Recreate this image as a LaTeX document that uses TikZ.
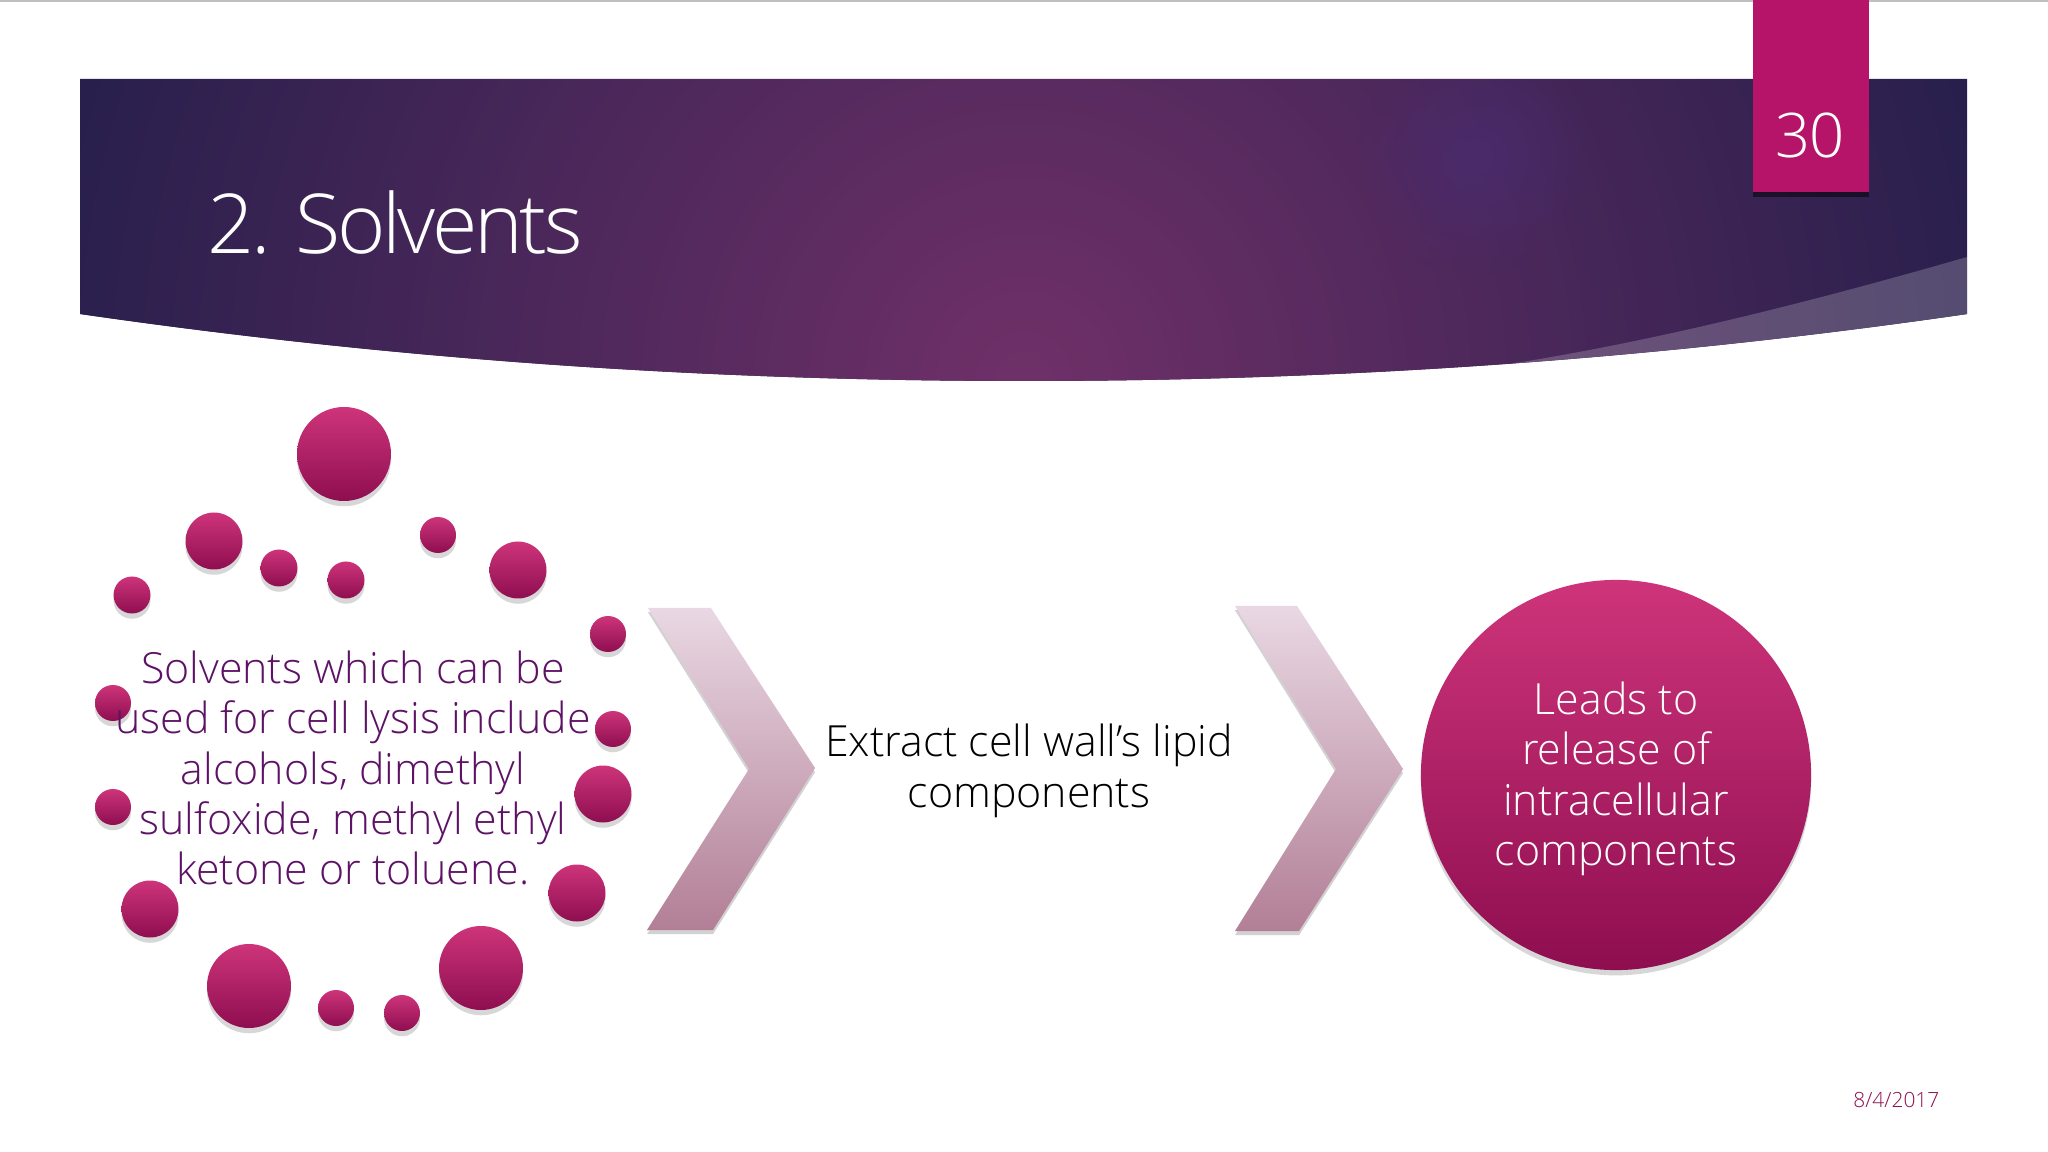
\documentclass[tikz,border=0pt]{standalone}
\usepackage{fontspec}
\setmainfont{Open Sans}[UprightFont=* Light]
\usepackage{tikz}
\usetikzlibrary{shadows,fadings}
\definecolor{hdrdark}{HTML}{271F4C}
\definecolor{hdrmid}{HTML}{6F3068}
\definecolor{hdrglow}{HTML}{4A2C72}
\definecolor{tabred}{HTML}{B51468}
\definecolor{balltop}{HTML}{CE347A}
\definecolor{ballbot}{HTML}{8E0E50}
\definecolor{chevtop}{HTML}{E9D8E3}
\definecolor{chevbot}{HTML}{B27F96}
\definecolor{textpurple}{HTML}{5E1266}
\definecolor{datered}{HTML}{8E1050}
\tikzfading[name=glowfade, inner color=transparent!30, outer color=transparent!100]
\tikzset{
	ball/.style={circle, inner sep=0pt, top color=balltop, bottom color=ballbot, drop shadow={shadow xshift=0pt, shadow yshift=-1.5pt, opacity=0.22, fill=black!70}},
	chevron/.style={top color=chevtop, bottom color=chevbot, drop shadow={shadow xshift=0pt, shadow yshift=-1.2pt, opacity=0.25, fill=black!70}},
	bodytext/.style={align=center, font=\fontsize{12.2}{14.34}\selectfont}
}
\begin{document}
\begin{tikzpicture}[x=0.01cm, y=-0.01cm]
	\useasboundingbox (0,0) rectangle (2048,1152);
	\fill[white] (0,0) rectangle (2048,1152);
	\fill[black!25] (0,0) rectangle (2048,2);

	\begin{scope}
		\clip (80,79) -- (1967,79) -- (1967,314) .. controls (1650,360) and (1340,381) .. (1024,381) .. controls (708,381) and (398,360) .. (80,314) -- cycle;
		\fill[hdrdark] (80,79) rectangle (1967,400);
		\shade[inner color=hdrmid, outer color=hdrdark] (1024,380) circle (1000);
		\fill[hdrglow, path fading=glowfade] (1476,157) circle (120);
		\fill[white, opacity=0.2] (1967,257) .. controls (1800,305) and (1640,345) .. (1483,368) -- (1483,400) -- (1967,400) -- cycle;
	\end{scope}

	\fill[tabred, drop shadow={shadow xshift=0pt, shadow yshift=-1.5pt, opacity=0.5, fill=black}] (1753,0) rectangle (1869,192);
	\node[white, font=\fontsize{17.5}{20}\selectfont\addfontfeature{LetterSpace=-3}] (pagenum) at (1810,135) {30};
	\node[white, anchor=base west, inner sep=0pt, font=\fontsize{23.5}{28}\selectfont\addfontfeature{LetterSpace=-4}] (title) at (207,254) {2. Solvents};

	\foreach \i/\x/\y/\d in {1/344/454/94, 2/214/541/57, 3/279/568/37, 4/346/580/37, 5/438/535/36, 6/518/570/57, 7/132/595/37, 8/608/634/36, 9/113/703/36, 10/613/729/36, 11/603/794/57, 12/113/807/36, 13/577/893/57, 14/150/909/57, 15/481/968/84, 16/249/986/84, 17/336/1008/36, 18/402/1013/36}
		\node[ball, minimum size=\d*0.01cm] (ball\i) at (\x,\y) {};

	\node[bodytext, text=textpurple] (solvents) at (353,768) {Solvents which can be\\used for cell lysis include\\alcohols, dimethyl\\sulfoxide, methyl ethyl\\ketone or toluene.};

	\shade[chevron] (648,608) -- (711,608) -- (815,768) -- (713,930) -- (647,930) -- (749,769) -- cycle;
	\node[bodytext, text=black] (extract) at (1029,771) {Extract cell wall’s lipid\\components};
	\shade[chevron] (1235,606) -- (1297,606) -- (1403,769) -- (1299,931) -- (1235,931) -- (1336,769) -- cycle;

	\node[ball, minimum size=3.9cm] (release) at (1616,775) {};
	\node[bodytext, text=white] (releasetext) at (1616,779) {Leads to\\release of\\intracellular\\components};

	\node[text=datered, anchor=east, inner sep=0pt, font=\fontsize{5.95}{8}\selectfont] (date) at (1940,1100) {8/4/2017};
\end{tikzpicture}
\end{document}
